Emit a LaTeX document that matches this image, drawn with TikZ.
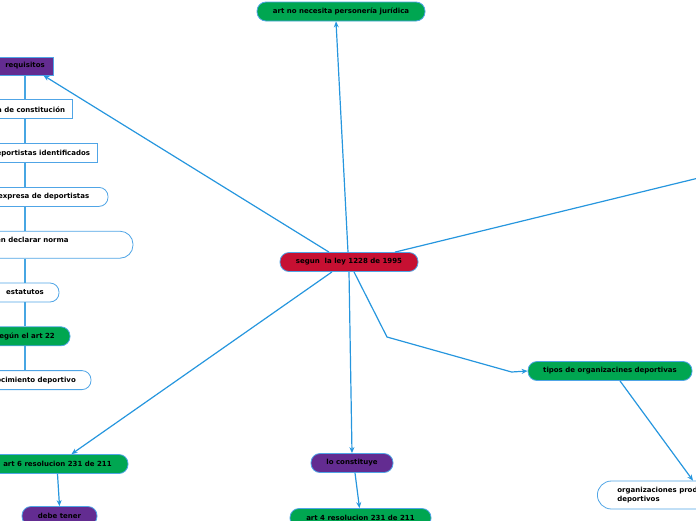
\documentclass[tikz,border=0pt]{standalone}
\usepackage{fontspec}
\setmainfont{DejaVu Sans}
\usetikzlibrary{positioning, arrows.meta}
\definecolor{mapgreen}{RGB}{0,166,81}
\definecolor{mappurple}{RGB}{99,44,145}
\definecolor{mapred}{RGB}{198,16,50}
\definecolor{mapblue}{RGB}{38,150,222}
\definecolor{mapedge}{RGB}{80,165,230}

\begin{document}
\begin{tikzpicture}[x=1pt, y=-1pt,
        node distance=24pt,
        every node/.style={font=\fontsize{7}{9}\selectfont\bfseries, text=black},
        pill/.style={draw=mapedge, line width=0.8pt, rounded corners=9pt, minimum height=19pt, inner sep=2pt, align=center},
        greenpill/.style={pill, fill=mapgreen},
        purplepill/.style={pill, fill=mappurple},
        redpill/.style={pill, fill=mapred},
        whitepill/.style={pill, fill=white},
        plainbox/.style={rectangle, draw=mapedge, line width=0.8pt, fill=white, minimum height=19pt, inner sep=2pt},
        arrow/.style={-{Stealth[length=6pt, width=5pt]}, mapblue, line width=1.2pt},
        spine/.style={mapblue!85, line width=1.2pt}
    ]
        \useasboundingbox (0,0) rectangle (696,520);
        \clip (0,0) rectangle (696,520);

        \node[redpill, minimum width=138pt] (segun) at (349,262) {segun~ la ley 1228 de 1995};
        \node[greenpill, minimum width=168pt] (nojur) at (341,11.5) {art no necesita personería jurídica};

        % requisitos and what hangs below it
        \node[plainbox, fill=mappurple, minimum width=56pt, minimum height=18pt] (requisitos) at (25,66) {requisitos};
        \node[plainbox, minimum width=94pt, below=of requisitos] (acta) {acta de constitución};
        \node[plainbox, minimum width=144pt, below=of acta] (lista) {lista de deportistas identificados};
        \node[whitepill, minimum width=166pt, below=of lista] (voluntad) {voluntad expresa de deportistas};
        \node[whitepill, minimum width=216pt, rounded corners=13pt, inner ysep=3pt, text height=8pt, text depth=13pt, below=of voluntad] (norma) {deben declarar norma};
        \node[whitepill, minimum width=68pt, below=of norma] (estatutos) {estatutos};
        \node[greenpill, minimum width=90pt, below=of estatutos] (art22) {según el art 22};
        \node[whitepill, minimum width=132pt, below=of art22] (reconocimiento) {reconocimiento deportivo};

        \node[greenpill, minimum width=141pt] (art6) at (57.5,464) {art 6 resolucion 231 de 211};
        \node[purplepill, minimum width=75pt] (debe) at (59.5,516) {debe tener};
        \node[purplepill, minimum width=82pt] (loconst) at (352,463) {lo constituye};
        \node[greenpill, minimum width=141pt] (art4) at (360.5,518) {art 4 resolucion 231 de 211};
        \node[greenpill, minimum width=164pt] (tipos) at (610,371) {tipos de organizacines deportivas};
        \node[whitepill, anchor=west, align=left, inner xsep=20pt, rounded corners=14pt, minimum height=28pt] (orgprod) at (597,495) {organizaciones productoras de bienes\\deportivos};

        \coordinate (far) at (760,163);
        \coordinate (bend) at (387,337);

        \draw[arrow] ([xshift=-20pt]segun.north) -- ([xshift=-10pt]requisitos.south east);
        \draw[arrow] ([xshift=-1pt]segun.north) -- ([xshift=-5pt]nojur.south);
        \draw[arrow] ([xshift=46pt]segun.north) -- (far);
        \draw[arrow] ([xshift=-17pt]segun.south) -- ([xshift=14pt]art6.north);
        \draw[arrow] (segun.south) -- (loconst.north);
        \draw[arrow] ([xshift=5pt]segun.south) -- (bend) -- ([xshift=-16pt, yshift=-1pt]tipos.west) -- (tipos.west);
        \draw[arrow] ([xshift=10pt]tipos.south) -- ([xshift=96pt]orgprod.north west);
        \draw[arrow] (art6.south) -- (debe.north);
        \draw[arrow] ([xshift=3pt]loconst.south) -- ([xshift=-1pt]art4.north);

        \draw[spine] (requisitos) -- (acta);
        \draw[spine] (acta) -- (lista);
        \draw[spine] (lista) -- (voluntad);
        \draw[spine] (voluntad) -- (norma);
        \draw[spine] (norma) -- (estatutos);
        \draw[spine] (estatutos) -- (art22);
        \draw[spine] (art22) -- (reconocimiento);
    \end{tikzpicture}
\end{document}
